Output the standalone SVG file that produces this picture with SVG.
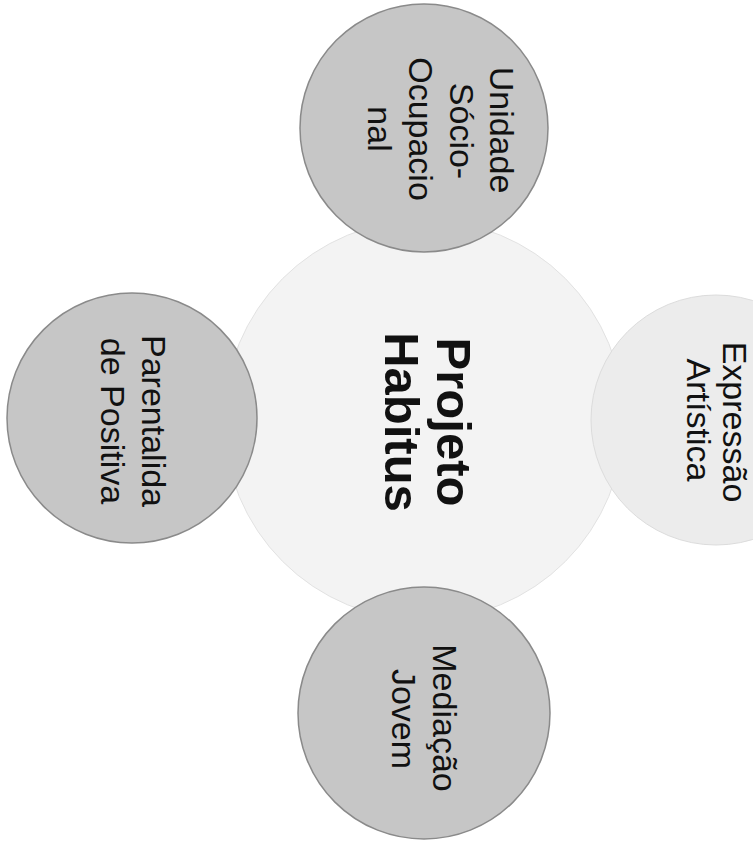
<svg xmlns="http://www.w3.org/2000/svg" width="753" height="850" viewBox="0 0 753 850">
<style>
.bg{fill:#ffffff}
.hub{fill:#f3f3f3;stroke:#e2e2e2;stroke-width:1}
.sat{fill:#c6c6c6;stroke:#8a8a8a;stroke-width:1.5}
.faint{fill:#ececec;stroke:#dcdcdc;stroke-width:1}
.lbl{font-family:"Liberation Sans",Arial,sans-serif;font-size:34px;fill:#111111;text-anchor:middle}
.hubl{font-family:"Liberation Sans",Arial,sans-serif;font-size:49px;font-weight:bold;fill:#111111;text-anchor:middle}
</style>
<rect class="bg" x="0" y="0" width="753" height="850"/>
<g id="connectors"></g>
<g id="hub">
<circle class="hub" cx="424" cy="420" r="200"/>
<text class="hubl" transform="translate(437,422) rotate(90)">Projeto</text>
<text class="hubl" transform="translate(385,422) rotate(90)">Habitus</text>
</g>
<g id="expressao">
<circle class="faint" cx="716" cy="420" r="125"/>
<text class="lbl" transform="translate(723,422) rotate(90)">Expressão</text>
<text class="lbl" transform="translate(687,420) rotate(90)">Artística</text>
</g>
<g id="unidade">
<circle class="sat" cx="424" cy="128" r="124"/>
<text class="lbl" transform="translate(490,130) rotate(90)">Unidade</text>
<text class="lbl" transform="translate(450,131) rotate(90)">Sócio-</text>
<text class="lbl" transform="translate(409,129) rotate(90)">Ocupacio</text>
<text class="lbl" transform="translate(368,129) rotate(90)">nal</text>
</g>
<g id="parentalidade">
<circle class="sat" cx="132" cy="418" r="125"/>
<text class="lbl" transform="translate(142,421) rotate(90)">Parentalida</text>
<text class="lbl" transform="translate(101,421) rotate(90)">de Positiva</text>
</g>
<g id="mediacao">
<circle class="sat" cx="424" cy="713" r="126"/>
<text class="lbl" transform="translate(433,718) rotate(90)">Mediação</text>
<text class="lbl" transform="translate(392,719) rotate(90)">Jovem</text>
</g>
</svg>
